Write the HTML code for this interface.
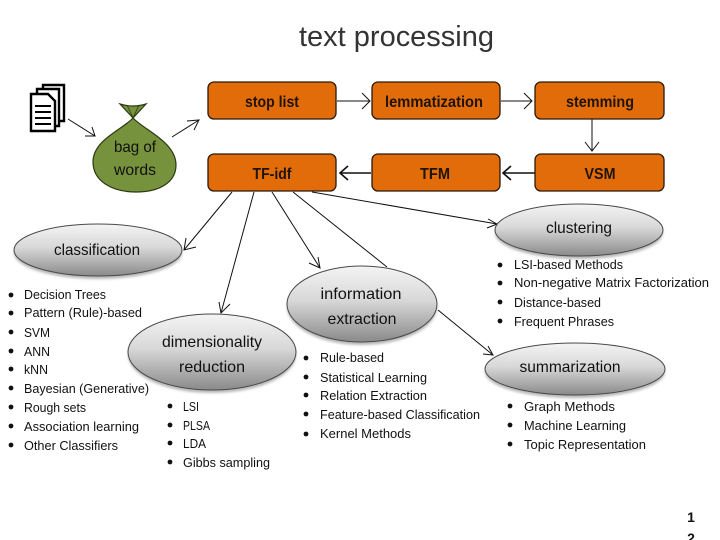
<!DOCTYPE html>
<html><head><meta charset="utf-8"><style>
html,body{margin:0;padding:0;background:#fff;width:720px;height:540px;overflow:hidden}
svg{display:block;font-family:"Liberation Sans",sans-serif}
.b{fill:#e36c0a;stroke:#2a1a08;stroke-width:1.3}
.bt{font-size:15.5px;font-weight:bold;fill:#1e1408;text-anchor:middle}
.e{stroke:#4a4a4a;stroke-width:1;fill:url(#g)}
.et{font-size:16px;fill:#111;text-anchor:middle}
.l{font-size:13px;fill:#111}
.c{stroke:#111;stroke-width:1;fill:none}
.ar{stroke:#111;stroke-width:1;fill:none}
.th{stroke:#111;stroke-width:1.6;fill:none}
</style></head><body>
<svg width="720" height="540" viewBox="0 0 720 540" xmlns="http://www.w3.org/2000/svg">
<defs>
<linearGradient id="g" x1="0" y1="0" x2="0" y2="1">
<stop offset="0" stop-color="#f4f4f4"/><stop offset=".45" stop-color="#d8d8d8"/><stop offset="1" stop-color="#8a8a8a"/>
</linearGradient>
<filter id="s" x="-10%" y="-10%" width="120%" height="130%"><feGaussianBlur stdDeviation="1.2"/></filter>
</defs>

<text x="299" y="46" font-size="29" fill="#333" textLength="195" lengthAdjust="spacingAndGlyphs">text processing</text>

<!-- connectors -->
<path class="c" d="M337 101H370M501 101H532M592 119V150"/>
<path class="ar" d="M362 93L370 101L362 109M524 93L532 101L524 109M585 142L592 151L599 142"/>
<path class="th" d="M371 173H340M535 173H503M348 166L340 173L348 180M511 166L503 173L511 180"/>
<path class="c" d="M232 192L184 250M254 192L221 313M272 192L320 268M293 192L387 267M312 192L497 224M438 310L493 355M68 119L95 136M172 137L199 120"/>
<path class="ar" d="M186 238L184 250L196 247M219 302L221 313L230 304M318 257L320 268L309 263M488 219L497 224L487 228M483 354L493 355L488 346M85 136L95 136L92 127M187 121L199 120L194 130"/>

<!-- docs icon -->
<g fill="#fff" stroke="#000" stroke-width="2.4">
<path d="M43 85H64V121H43Z"/><path d="M37 89H59V126H37Z"/><path d="M31 94H48L55 101V131H31Z"/>
</g>
<path d="M35 106H51M35 112H51M35 118H51M35 124H51" stroke="#000" stroke-width="2"/>

<!-- bag -->
<path d="M120 104Q133 108 146 104L133 118Z" fill="#76923c" stroke="#2c3a12" stroke-width="1.2"/>
<path d="M127 105L133 118L139 105" fill="none" stroke="#2c3a12" stroke-width=".8"/>
<path d="M133 118C122 130 93 140 93 162C93 181 112 192 136 192C160 192 176 182 176 165C176 142 144 130 133 118Z" fill="#76923c" stroke="#2c3a12" stroke-width="1.2"/>
<text x="135" y="152" class="et" textLength="42" lengthAdjust="spacingAndGlyphs">bag of</text>
<text x="135" y="175" class="et" textLength="42" lengthAdjust="spacingAndGlyphs">words</text>

<!-- boxes -->
<rect class="b" x="208" y="82" width="128" height="37" rx="6"/>
<rect class="b" x="372" y="82" width="128" height="37" rx="6"/>
<rect class="b" x="535" y="82" width="129" height="37" rx="6"/>
<rect class="b" x="208" y="154" width="128" height="37" rx="6"/>
<rect class="b" x="372" y="154" width="128" height="37" rx="6"/>
<rect class="b" x="535" y="154" width="129" height="37" rx="6"/>
<text class="bt" x="272" y="107" textLength="54" lengthAdjust="spacingAndGlyphs">stop list</text>
<text class="bt" x="434" y="107" textLength="98" lengthAdjust="spacingAndGlyphs">lemmatization</text>
<text class="bt" x="600" y="107" textLength="68" lengthAdjust="spacingAndGlyphs">stemming</text>
<text class="bt" x="272" y="179" textLength="39" lengthAdjust="spacingAndGlyphs">TF-idf</text>
<text class="bt" x="435" y="179" textLength="30" lengthAdjust="spacingAndGlyphs">TFM</text>
<text class="bt" x="600" y="179" textLength="31" lengthAdjust="spacingAndGlyphs">VSM</text>

<!-- ellipses -->
<g fill="#999" opacity=".7" filter="url(#s)">
<ellipse cx="98" cy="253" rx="84" ry="26"/><ellipse cx="579" cy="233" rx="84" ry="26"/>
<ellipse cx="362" cy="307" rx="75" ry="38"/><ellipse cx="212" cy="355" rx="84" ry="38"/>
<ellipse cx="575" cy="372" rx="90" ry="26"/>
</g>
<ellipse class="e" cx="98" cy="250" rx="84" ry="26"/>
<ellipse class="e" cx="579" cy="230" rx="84" ry="26"/>
<ellipse class="e" cx="362" cy="304" rx="75" ry="38"/>
<ellipse class="e" cx="212" cy="352" rx="84" ry="38"/>
<ellipse class="e" cx="575" cy="369" rx="90" ry="26"/>
<text class="et" x="97" y="255" textLength="86" lengthAdjust="spacingAndGlyphs">classification</text>
<text class="et" x="579" y="233" textLength="66" lengthAdjust="spacingAndGlyphs">clustering</text>
<text class="et" x="361" y="299" textLength="81" lengthAdjust="spacingAndGlyphs">information</text>
<text class="et" x="362" y="324" textLength="69" lengthAdjust="spacingAndGlyphs">extraction</text>
<text class="et" x="212" y="347" textLength="100" lengthAdjust="spacingAndGlyphs">dimensionality</text>
<text class="et" x="212" y="372" textLength="66" lengthAdjust="spacingAndGlyphs">reduction</text>
<text class="et" x="570" y="372" textLength="101" lengthAdjust="spacingAndGlyphs">summarization</text>

<!-- bullets -->
<g fill="#111">
<circle cx="11" cy="295" r="2.4"/><circle cx="11" cy="313" r="2.4"/><circle cx="11" cy="332" r="2.4"/><circle cx="11" cy="351" r="2.4"/><circle cx="11" cy="369" r="2.4"/><circle cx="11" cy="388" r="2.4"/><circle cx="11" cy="407" r="2.4"/><circle cx="11" cy="426" r="2.4"/><circle cx="11" cy="445" r="2.4"/>
<circle cx="170" cy="406" r="2.4"/><circle cx="170" cy="425" r="2.4"/><circle cx="170" cy="443" r="2.4"/><circle cx="170" cy="462" r="2.4"/>
<circle cx="306" cy="358" r="2.4"/><circle cx="306" cy="377" r="2.4"/><circle cx="306" cy="395" r="2.4"/><circle cx="306" cy="414" r="2.4"/><circle cx="306" cy="434" r="2.4"/>
<circle cx="500" cy="265" r="2.4"/><circle cx="500" cy="283" r="2.4"/><circle cx="500" cy="302" r="2.4"/><circle cx="500" cy="321" r="2.4"/>
<circle cx="510" cy="406" r="2.4"/><circle cx="510" cy="425" r="2.4"/><circle cx="510" cy="444" r="2.4"/>
</g>
<g>
<text class="l" x="24" y="299" textLength="82" lengthAdjust="spacingAndGlyphs">Decision Trees</text>
<text class="l" x="24" y="317" textLength="118" lengthAdjust="spacingAndGlyphs">Pattern (Rule)-based</text>
<text class="l" x="24" y="337" textLength="26" lengthAdjust="spacingAndGlyphs">SVM</text>
<text class="l" x="24" y="356" textLength="26" lengthAdjust="spacingAndGlyphs">ANN</text>
<text class="l" x="24" y="374" textLength="24" lengthAdjust="spacingAndGlyphs">kNN</text>
<text class="l" x="24" y="393" textLength="125" lengthAdjust="spacingAndGlyphs">Bayesian (Generative)</text>
<text class="l" x="24" y="412" textLength="62" lengthAdjust="spacingAndGlyphs">Rough sets</text>
<text class="l" x="24" y="431" textLength="115" lengthAdjust="spacingAndGlyphs">Association learning</text>
<text class="l" x="24" y="450" textLength="94" lengthAdjust="spacingAndGlyphs">Other Classifiers</text>

<text class="l" x="183" y="411" textLength="16" lengthAdjust="spacingAndGlyphs">LSI</text>
<text class="l" x="183" y="430" textLength="27" lengthAdjust="spacingAndGlyphs">PLSA</text>
<text class="l" x="183" y="448" textLength="23" lengthAdjust="spacingAndGlyphs">LDA</text>
<text class="l" x="183" y="467" textLength="87" lengthAdjust="spacingAndGlyphs">Gibbs sampling</text>

<text class="l" x="320" y="362" textLength="64" lengthAdjust="spacingAndGlyphs">Rule-based</text>
<text class="l" x="320" y="382" textLength="107" lengthAdjust="spacingAndGlyphs">Statistical Learning</text>
<text class="l" x="320" y="400" textLength="107" lengthAdjust="spacingAndGlyphs">Relation Extraction</text>
<text class="l" x="320" y="419" textLength="160" lengthAdjust="spacingAndGlyphs">Feature-based Classification</text>
<text class="l" x="320" y="438" textLength="91" lengthAdjust="spacingAndGlyphs">Kernel Methods</text>

<text class="l" x="514" y="269" textLength="109" lengthAdjust="spacingAndGlyphs">LSI-based Methods</text>
<text class="l" x="514" y="287" textLength="195" lengthAdjust="spacingAndGlyphs">Non-negative Matrix Factorization</text>
<text class="l" x="514" y="307" textLength="87" lengthAdjust="spacingAndGlyphs">Distance-based</text>
<text class="l" x="514" y="326" textLength="100" lengthAdjust="spacingAndGlyphs">Frequent Phrases</text>

<text class="l" x="524" y="411" textLength="91" lengthAdjust="spacingAndGlyphs">Graph Methods</text>
<text class="l" x="524" y="430" textLength="102" lengthAdjust="spacingAndGlyphs">Machine Learning</text>
<text class="l" x="524" y="449" textLength="122" lengthAdjust="spacingAndGlyphs">Topic Representation</text>
</g>

<text x="691" y="522" font-size="14" font-weight="bold" fill="#111" text-anchor="middle">1</text>
<text x="691" y="543" font-size="14" font-weight="bold" fill="#111" text-anchor="middle">2</text>
</svg>
</body></html>
